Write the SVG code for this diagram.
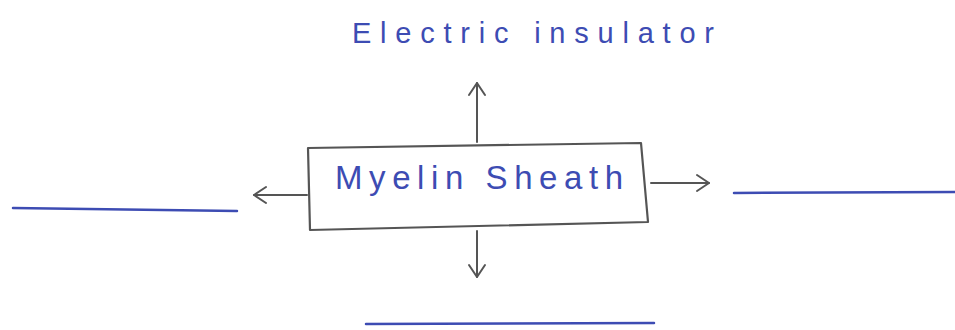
<svg xmlns="http://www.w3.org/2000/svg" width="955" height="330" viewBox="0 0 955 330">
<defs>
<style>
.hand{font-family:"Liberation Sans","DejaVu Sans",sans-serif;fill:#3d4cb3;}
.conn{stroke:#555;stroke-width:2;fill:none;stroke-linecap:round;stroke-linejoin:round;}
.blank{stroke:#3d4cb3;stroke-width:2.5;fill:none;stroke-linecap:round;}
</style>
<marker id="arr" viewBox="0 0 20 20" refX="18" refY="10" markerWidth="20" markerHeight="20" markerUnits="userSpaceOnUse" orient="auto">
<path d="M6,2 L18,10 L6,18" fill="none" stroke="#555" stroke-width="2" stroke-linecap="round" stroke-linejoin="round"/>
</marker>
</defs>
<rect width="955" height="330" fill="#fff"/>
<g id="title">
<text class="hand" x="352" y="43" font-size="29" textLength="362" lengthAdjust="spacing">Electric insulator</text>
</g>
<g id="myelin">
<path d="M308,148 L641,143 L648,222 L310,230 Z" fill="#fff" stroke="#555" stroke-width="2.2" stroke-linejoin="round"/>
<text class="hand" x="335" y="189" font-size="33" textLength="288" lengthAdjust="spacing">Myelin Sheath</text>
</g>
<g id="connectors">
<path class="conn" d="M477,142 L477,83" marker-end="url(#arr)"/>
<path class="conn" d="M477,231 L477,277" marker-end="url(#arr)"/>
<path class="conn" d="M307,195 L254,195" marker-end="url(#arr)"/>
<path class="conn" d="M651,183 L709,183" marker-end="url(#arr)"/>
</g>
<g id="blank-left"><path class="blank" d="M13,208 L237,211"/></g>
<g id="blank-right"><path class="blank" d="M734,193 L955,192"/></g>
<g id="blank-bottom"><path class="blank" d="M366,324 L654,323"/></g>
</svg>
